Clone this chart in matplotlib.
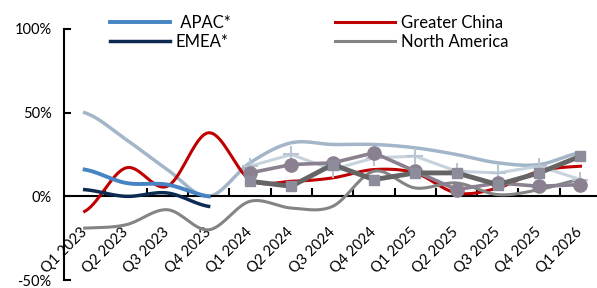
import numpy as np
import matplotlib.pyplot as plt

quarters = ['Q1 2023', 'Q2 2023', 'Q3 2023', 'Q4 2023', 'Q1 2024', 'Q2 2024', 'Q3 2024',
            'Q4 2024', 'Q1 2025', 'Q2 2025', 'Q3 2025', 'Q4 2025', 'Q1 2026']

# reported series (smoothed lines, in legend)
apac = [16, 8, 7, 0]
emea = [4, 0, 2, -6]
china = [-9, 17, 6, 38, 10, 9, 11, 16, 14, 2, 5, 15, 18]
north_am = [-19, -17, -8, -20, -3, -7, -6, 15, 5, 8, 1, 4, 10]

# other series (not in legend)
light_smooth = [50, 34, 16, 0, 20, 32, 31, 31, 29, 25, 20, 19, 26]
plus_vals = [18, 25, 16, 23, 24, 15, 14, 18, 10]
circle_vals = [14, 19, 20, 26, 15, 4, 8, 6, 7]
square_vals = [9, 6, 19, 10, 14, 14, 7, 14, 24]
start_late = 4


def smooth(y, n=20):
    # catmull-rom curve through the points, like excel's smoothed line
    y = np.asarray(y, float)
    x = np.arange(len(y), dtype=float)
    xs, ys = [], []
    for i in range(len(y) - 1):
        y0 = y[i - 1] if i > 0 else y[i]
        y3 = y[i + 2] if i + 2 < len(y) else y[i + 1]
        m1 = (y[i + 1] - y0) / 2
        m2 = (y3 - y[i]) / 2
        t = np.linspace(0, 1, n)
        h00 = 2 * t**3 - 3 * t**2 + 1
        h10 = t**3 - 2 * t**2 + t
        h01 = -2 * t**3 + 3 * t**2
        h11 = t**3 - t**2
        xs.append(x[i] + t)
        ys.append(h00 * y[i] + h10 * m1 + h01 * y[i + 1] + h11 * m2)
    return np.concatenate(xs), np.concatenate(ys)


plt.rcParams['font.family'] = ['Lato', 'DejaVu Sans']
plt.rcParams['font.size'] = 10.5

fig = plt.figure(figsize=(5.97, 2.88), dpi=100)
ax = fig.add_axes([64 / 597, 8 / 288, 533 / 597, 251 / 288])

late_x = np.arange(start_late, len(quarters))

ax.plot(*smooth(light_smooth), color='#a3b6c9', lw=2.5, zorder=2)
ax.plot(*smooth(china), color='#c00000', lw=2.2, zorder=3, label='Greater China')
ax.plot(*smooth(north_am), color='#848484', lw=2.2, zorder=3, label='North America')
ax.plot(*smooth(emea), color='#0d2b52', lw=2.5, zorder=3, label='EMEA*')
ax.plot(*smooth(apac), color='#4684c4', lw=2.8, zorder=3, label=' APAC*')

ax.plot(late_x, plus_vals, color='#c6d2dd', lw=2.2, marker='+', ms=11, mew=1.5,
        mec='#b9c6d2', zorder=4)
ax.plot(late_x, circle_vals, color='#8b8090', lw=2.6, marker='o', ms=9.5,
        zorder=5)
ax.plot(late_x, square_vals, color='#656565', lw=3.5, marker='s', ms=6.5,
        mfc='#8d8c9b', mec='#8d8c9b', zorder=6)

ax.set_xlim(-0.5, 12.4)
ax.set_ylim(-50, 100)
ax.set_yticks([-50, 0, 50, 100])
ax.set_yticklabels(['-50%', '0%', '50%', '100%'])
ax.tick_params(axis='y', direction='in', length=5, width=1.5, pad=9)

ax.spines['top'].set_visible(False)
ax.spines['right'].set_visible(False)
ax.spines['left'].set_linewidth(1.5)
ax.spines['bottom'].set_position(('data', 0))
ax.spines['bottom'].set_linewidth(1.5)

ax.set_xticks(np.arange(len(quarters)))
ax.set_xticklabels(quarters, rotation=45, ha='right', va='center',
                   rotation_mode='anchor')
ax.set_xticks(np.arange(0.5, len(quarters) - 1), minor=True)
ax.tick_params(axis='x', which='major', length=0, pad=24)
ax.tick_params(axis='x', which='minor', direction='in', length=6, width=1.5)

handles, labels = ax.get_legend_handles_labels()
order = [3, 2, 0, 1]
fig.legend([handles[i] for i in order], [labels[i] for i in order],
           ncol=2, frameon=False, loc='upper left', fontsize=12,
           bbox_to_anchor=(98 / 597, 1 - 3 / 288), handlelength=3.6,
           handletextpad=0.35, columnspacing=6.3, labelspacing=0.2,
           borderpad=0.2)

fig.savefig('out.png', dpi=100)
